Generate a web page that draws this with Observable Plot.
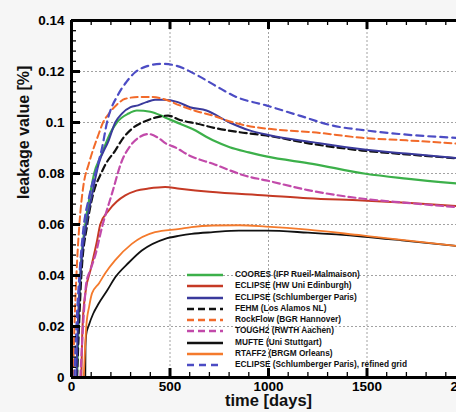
<!DOCTYPE html>
<html>
<head>
<meta charset="utf-8">
<script src="https://cdn.jsdelivr.net/npm/d3@7"></script>
<script src="https://cdn.jsdelivr.net/npm/@observablehq/plot@0.6"></script>
<style>
  html, body { margin: 0; padding: 0; background: #f6f6f6; width: 456px; height: 412px; overflow: hidden; }
  #wrap { position: relative; width: 456px; height: 412px; overflow: hidden; }
  #wrap > svg { max-width: none !important; position: absolute; left: 0; top: 0; }
  #legend { position: absolute; left: 187px; top: 269px; font-family: "Liberation Sans", Arial, sans-serif; font-weight: bold; font-size: 8.3px; color: #111; }
  .row { position: absolute; left: 0; height: 11px; white-space: nowrap; }
  .row svg { position: absolute; left: 0; top: 0; }
  .row span { position: absolute; left: 48px; top: 0; line-height: 11px; }
</style>
</head>
<body>
<div id="wrap"><div id="legend"></div></div>
<script>
// ---- data (days, leakage %) ----
const seriesNames = [
  "COORES (IFP Rueil-Malmaison)",
  "ECLIPSE (HW Uni Edinburgh)",
  "ECLIPSE (Schlumberger Paris)",
  "FEHM (Los Alamos NL)",
  "RockFlow (BGR Hannover)",
  "TOUGH2 (RWTH Aachen)",
  "MUFTE (Uni Stuttgart)",
  "RTAFF2 (BRGM Orleans)",
  "ECLIPSE (Schlumberger Paris), refined grid"
];
const coores = [[28,0],[35,0.02],[45,0.04],[70,0.06],[95,0.072],[115,0.08],[150,0.087],[205,0.097],[230,0.1],[289,0.1035],[332,0.1047],[400,0.1042],[475,0.102],[550,0.0995],[609,0.0976],[718,0.093],[803,0.0903],[900,0.0883],[988,0.0867],[1223,0.0838],[1493,0.0799],[1700,0.078],[2000,0.0758]];
const eclipseHW = [[50,0],[56,0.02],[72,0.034],[96,0.042],[130,0.0537],[146,0.06],[189,0.0655],[230,0.069],[273,0.0714],[330,0.0733],[390,0.0741],[475,0.0747],[550,0.074],[700,0.0728],[988,0.0714],[1200,0.0703],[1475,0.0694],[1700,0.0685],[2000,0.067]];
const eclipseSP = [[25,0],[32,0.02],[45,0.04],[75,0.06],[100,0.07],[138,0.0838],[189,0.093],[222,0.1],[256,0.1035],[300,0.106],[338,0.1067],[380,0.108],[424,0.1089],[465,0.1089],[540,0.108],[601,0.106],[685,0.1047],[803,0.1],[904,0.0969],[1005,0.095],[1223,0.0923],[1475,0.0895],[1700,0.0878],[2000,0.0858]];
const fehm = [[28,0],[38,0.02],[50,0.04],[80,0.06],[110,0.072],[150,0.08],[172,0.0835],[222,0.089],[263,0.094],[306,0.0975],[374,0.1005],[430,0.102],[490,0.1027],[550,0.101],[640,0.0995],[718,0.098],[853,0.0962],[988,0.0949],[1223,0.0916],[1475,0.089],[1700,0.0875],[2000,0.0857]];
const rockflow = [[8,0],[15,0.02],[25,0.04],[40,0.06],[60,0.075],[88,0.0838],[138,0.0955],[160,0.1],[189,0.1034],[230,0.107],[273,0.1093],[340,0.11],[407,0.11],[475,0.109],[550,0.1067],[630,0.1045],[718,0.1027],[800,0.1005],[887,0.0988],[1056,0.0971],[1223,0.0962],[1475,0.094],[1700,0.093],[2000,0.0915]];
const tough2 = [[45,0],[55,0.015],[65,0.028],[75,0.037],[95,0.042],[121,0.048],[155,0.059],[205,0.072],[256,0.085],[300,0.091],[350,0.0945],[391,0.0955],[440,0.094],[483,0.0916],[525,0.0903],[600,0.087],[718,0.0838],[887,0.079],[988,0.0773],[1200,0.0735],[1493,0.07],[1700,0.0685],[2000,0.0665]];
const mufte = [[70,0],[71,0.012],[75,0.017],[88,0.0205],[110,0.025],[138,0.029],[180,0.034],[222,0.0393],[290,0.045],[357,0.0498],[475,0.0544],[550,0.0556],[609,0.0563],[718,0.057],[850,0.0576],[988,0.0576],[1200,0.0568],[1475,0.0553],[1700,0.0536],[2000,0.0512]];
const rtaff2 = [[62,0],[68,0.01],[75,0.02],[90,0.028],[104,0.033],[140,0.037],[172,0.041],[222,0.046],[306,0.0524],[424,0.057],[550,0.0583],[609,0.059],[718,0.0596],[850,0.0597],[988,0.0592],[1200,0.058],[1475,0.0557],[1700,0.0538],[2000,0.0512]];
const eclipseRefined = [[15,0],[25,0.02],[40,0.04],[60,0.058],[90,0.071],[130,0.0825],[155,0.09],[180,0.1],[237,0.111],[280,0.116],[323,0.1197],[380,0.122],[458,0.123],[520,0.1225],[651,0.118],[740,0.114],[837,0.11],[988,0.1067],[1157,0.1027],[1325,0.0988],[1493,0.0969],[1662,0.0955],[2000,0.0938]];

const xTicks = [0, 500, 1000, 1500, 2000];
const xMinor = [0,100,200,300,400,500,600,700,800,900,1000,1100,1200,1300,1400,1500,1600,1700,1800,1900,2000];
const yTicks = [0, 0.02, 0.04, 0.06, 0.08, 0.1, 0.12, 0.14];
const yTickLabels = ["0", "0.02", "0.04", "0.06", "0.08", "0.1", "0.12", "0.14"];
const yMinor = [0.004,0.008,0.012,0.016,0.024,0.028,0.032,0.036,0.044,0.048,0.052,0.056,0.064,0.068,0.072,0.076,0.084,0.088,0.092,0.096,0.104,0.108,0.112,0.116,0.124,0.128,0.132,0.136];

// ---- styles ----
const styles = [
  {stroke: "#3cb04a", dash: null, w: 2.2},
  {stroke: "#c53a25", dash: null, w: 2.0},
  {stroke: "#3a3a9c", dash: null, w: 2.0},
  {stroke: "#111111", dash: "7,4", w: 2.2},
  {stroke: "#f26a2a", dash: "7,4", w: 2.0},
  {stroke: "#c24aaa", dash: "7,4", w: 2.2},
  {stroke: "#111111", dash: null, w: 1.8},
  {stroke: "#f47a2c", dash: null, w: 1.8},
  {stroke: "#4c4cc4", dash: "7,5", w: 2.2}
];
const seriesData = [coores, eclipseHW, eclipseSP, fehm, rockflow, tough2, mufte, rtaff2, eclipseRefined];
const drawOrder = [6, 7, 1, 5, 0, 3, 2, 4, 8];

const lineMarks = drawOrder.map(i => Plot.line(seriesData[i].map(([d, v]) => ({d, v})), {
  x: "d", y: "v", stroke: styles[i].stroke, strokeWidth: styles[i].w,
  strokeDasharray: styles[i].dash, curve: "monotone-x", clip: true
}));

const W = 480, H = 412, ML = 71, MR = 15, MT = 20, MB = 35;
const innerW = W - ML - MR, innerH = H - MT - MB;

// inward tick marks as rules (data-positioned) with pixel insets leaving a short stub at the frame edge
const tickRulesY = (data, len, w) => Plot.ruleY(data, {insetRight: innerW - len, stroke: "#000", strokeWidth: w});
const tickRulesXb = (data, len, w) => Plot.ruleX(data, {insetTop: innerH - len, stroke: "#000", strokeWidth: w});
const tickRulesXt = (data, len, w) => Plot.ruleX(data, {insetBottom: innerH - len, stroke: "#000", strokeWidth: w});

const font = "'Liberation Sans', Arial, sans-serif";
const chart = Plot.plot({
  width: W, height: H,
  marginLeft: ML, marginRight: MR, marginTop: MT, marginBottom: MB,
  x: {domain: [0, 2000], axis: null},
  y: {domain: [0, 0.14], axis: null},
  style: {background: "transparent", fontFamily: font, maxWidth: "none"},
  marks: [
    Plot.frame({fill: "white", stroke: null}),
    Plot.gridX([500, 1000, 1500], {stroke: "#8a8a8a", strokeOpacity: 1, strokeDasharray: "2,2", strokeWidth: 0.8}),
    Plot.gridY([0.02, 0.04, 0.06, 0.08, 0.1, 0.12], {stroke: "#8a8a8a", strokeOpacity: 1, strokeDasharray: "2,2", strokeWidth: 0.8}),
    ...lineMarks,
    tickRulesY(yMinor, 5, 1.3),
    tickRulesY(yTicks, 9, 3),
    tickRulesXb(xMinor, 5, 1.3),
    tickRulesXb(xTicks, 9, 3),
    tickRulesXt(xMinor, 5, 1.3),
    tickRulesXt(xTicks, 9, 3),
    Plot.axisY({ticks: yTicks, tickSize: 0, tickPadding: 7, tickFormat: (d, i) => yTickLabels[i], fontSize: 13.5, fontWeight: "bold", label: null}),
    Plot.axisX({ticks: xTicks, tickSize: 0, tickPadding: 4, fontSize: 13.5, fontWeight: "bold", label: null, tickFormat: d => String(d)}),
    Plot.ruleX([0], {stroke: "#000", strokeWidth: 3}),
    Plot.ruleY([0], {stroke: "#000", strokeWidth: 3}),
    Plot.ruleY([0.14], {stroke: "#000", strokeWidth: 3}),
    Plot.text(["leakage value [%]"], {frameAnchor: "left", dx: -48, rotate: -90, fontSize: 16, fontWeight: "bold", fill: "#111"}),
    Plot.text(["time [days]"], {frameAnchor: "bottom", dy: 28, fontSize: 16.5, fontWeight: "bold", fill: "#111"})
  ]
});
const wrap = document.getElementById("wrap");
wrap.insertBefore(chart, wrap.firstChild);

// ---- legend ----
const legend = document.getElementById("legend");
seriesNames.forEach((name, i) => {
  const row = document.createElement("div");
  row.className = "row";
  row.style.top = (i * 11.25) + "px";
  const s = styles[i];
  row.innerHTML = `<svg width="38" height="11"><line x1="0" x2="36" y1="6" y2="6" stroke="${s.stroke}" stroke-width="2.6" ${s.dash ? `stroke-dasharray="${s.dash}"` : ""}/></svg><span>${name}</span>`;
  legend.appendChild(row);
});
</script>
</body>
</html>
